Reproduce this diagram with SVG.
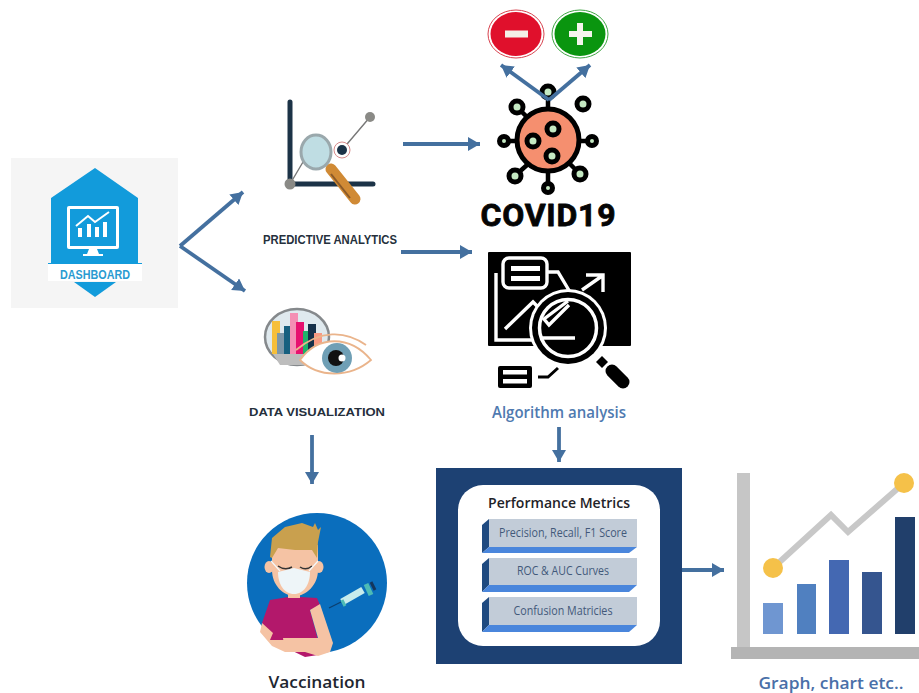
<svg xmlns="http://www.w3.org/2000/svg" width="919" height="693" viewBox="0 0 919 693">
<style>
.c{fill:none;stroke:#44709f;stroke-width:3.8;stroke-linecap:butt}
.os{font-family:"Open Sans","Liberation Sans",sans-serif;font-weight:600}
.cap{font-family:"Liberation Sans",Arial,sans-serif;font-weight:700;fill:#25303c}
.mt{font-family:"Open Sans","Liberation Sans",sans-serif;font-size:12px;fill:#42597a;text-anchor:middle}
.ball{fill:#c5eac3;stroke:#000;stroke-width:5}
.sp{stroke:#000;stroke-width:4.500;fill:none;stroke-linecap:round}
.w{fill:none;stroke:#fff;stroke-width:3.400}
.side{fill:#1f4a80}
.bot{fill:#4a86dc}
.front{fill:#c2ccd8}
.skin{fill:#f5c3a4}
</style>
<defs>
<marker id="ah" markerUnits="userSpaceOnUse" markerWidth="15" markerHeight="15" refX="12" refY="7" orient="auto">
<path d="M0 0L12 7L0 14z" fill="#44709f"/>
</marker>
</defs>
<rect width="919" height="693" fill="#fff"/>

<g id="dashboard">
<rect x="11" y="158" width="167" height="150" fill="#f5f5f5"/>
<path d="M95 168L138 198V263H142V264H48V263H51V198z" fill="#129bdb"/>
<rect x="48" y="264" width="94" height="17" fill="#fff"/>
<path d="M74 282H116L95 297z" fill="#129bdb"/>
<rect x="67" y="206" width="52" height="43" rx="2" fill="#fff"/>
<rect x="70" y="209" width="46" height="37" fill="#129bdb"/>
<path d="M76 226L88 216L95 222L109 212" fill="none" stroke="#fff" stroke-width="2"/>
<path d="M78 228h4v9h-4zM87 224h4v13h-4zM95 227h4v10h-4zM103 222h4v15h-4z" fill="#fff"/>
<path d="M89 249h8l2 5h4v2h-20v-2h4z" fill="#fff"/>
<text x="95" y="279" text-anchor="middle" font-family="'Liberation Sans',Arial,sans-serif" font-size="13" font-weight="700" fill="#2a9bd1" textLength="70" lengthAdjust="spacingAndGlyphs">DASHBOARD</text>
</g>

<g id="predictive-analytics">
<path d="M290 102V184M290 184H373" fill="none" stroke="#1c3347" stroke-width="5" stroke-linecap="round"/>
<path d="M290 184L316 140M342 150L370 117" stroke="#777" stroke-width="1.400" fill="none"/>
<circle cx="290" cy="184" r="5.500" fill="#8a8a86"/>
<circle cx="370" cy="117" r="5" fill="#8a8a86"/>
<circle cx="342" cy="150" r="8" fill="#fff" stroke="#d88b8b" stroke-width="1"/>
<circle cx="342" cy="150" r="5" fill="#1c3347"/>
<path d="M331 169L355 199" stroke="#d08a35" stroke-width="11" stroke-linecap="round"/>
<path d="M331 174L350 198" stroke="#8a5a2a" stroke-width="2"/>
<ellipse cx="316" cy="152" rx="15" ry="17" fill="#bfdde3" stroke="#9aa8ac" stroke-width="3"/>
<text x="330" y="244" text-anchor="middle" class="cap" font-size="12.500" textLength="134" lengthAdjust="spacingAndGlyphs">PREDICTIVE ANALYTICS</text>
</g>

<g id="data-visualization">
<ellipse cx="297" cy="337" rx="32" ry="28" fill="#dfe9ee" stroke="#85898c" stroke-width="2.500"/>
<path d="M272 354L272 321H280V354z" fill="#f6bf3a"/>
<path d="M277 354V333H285V354z" fill="#7d97a8"/>
<path d="M284 354V326H292V354z" fill="#17607f"/>
<path d="M290 354V313H298V354z" fill="#f48fb4"/>
<path d="M296 354V322H304V354z" fill="#e7116f"/>
<path d="M303 354V331H311V354z" fill="#1eb36a"/>
<path d="M308 354V324H316V354z" fill="#15314a"/>
<path d="M314 350V333H322V350z" fill="#f79a83"/>
<path d="M273 354H310L318 365H280z" fill="#bdbdbd"/>
<path d="M300 360C318 335 350 335 371 360C350 378 318 378 300 360z" fill="#fff" stroke="#eab48b" stroke-width="1.800"/>
<path d="M296 350C320 330 345 330 366 345" fill="none" stroke="#eab48b" stroke-width="1.800"/>
<circle cx="337" cy="358" r="15" fill="#6f9fb5"/>
<circle cx="336" cy="358" r="8" fill="#111"/>
<circle cx="342" cy="358" r="3.500" fill="#fff"/>
<text x="317" y="416" text-anchor="middle" class="cap" font-size="11.500" textLength="136" lengthAdjust="spacingAndGlyphs">DATA VISUALIZATION</text>
</g>

<g id="minus">
<ellipse cx="516" cy="34" rx="28" ry="24" fill="#fff" stroke="#d8434f" stroke-width="1"/>
<ellipse cx="516" cy="34" rx="25.500" ry="22" fill="#e0102c"/>
<rect x="505" y="30.500" width="23" height="7" fill="#f4f0e8"/>
</g>
<g id="plus">
<ellipse cx="580" cy="34" rx="28" ry="24" fill="#fff" stroke="#3fa544" stroke-width="1"/>
<ellipse cx="580" cy="34" rx="25.500" ry="22" fill="#0a950f"/>
<path d="M577 23h6v8h9v6h-9v8h-6v-8h-8v-6h8z" fill="#f4f4ec"/>
</g>

<g id="covid19">
<path class="sp" d="M548 97V110M520 110L529 119M509 141H516M587 141H580M518 173L527 165M577 171L569 163M548 183V172"/>
<circle cx="548" cy="140" r="31" fill="#f58f6f" stroke="#000" stroke-width="5"/>
<circle class="ball" cx="548" cy="92" r="6"/>
<circle class="ball" cx="517" cy="107" r="6"/>
<circle class="ball" cx="583" cy="104" r="6"/>
<circle class="ball" cx="504" cy="141" r="4.500"/>
<circle class="ball" cx="592" cy="141" r="4.500"/>
<circle class="ball" cx="515" cy="176" r="6"/>
<circle class="ball" cx="580" cy="174" r="6"/>
<circle class="ball" cx="548" cy="188" r="4.500"/>
<circle class="ball" cx="553" cy="129" r="6"/>
<circle class="ball" cx="533" cy="141" r="6"/>
<circle class="ball" cx="552" cy="156" r="6"/>
<text x="548" y="226" text-anchor="middle" font-family="Roboto,'Liberation Sans',sans-serif" font-weight="700" font-size="32" fill="#050505" stroke="#050505" stroke-width="0.800" stroke-linejoin="round" textLength="135" lengthAdjust="spacing">COVID19</text>
</g>

<g id="algorithm-analysis">
<rect x="488" y="252" width="143" height="94" rx="1" fill="#000"/>
<path class="w" d="M496 273V340H573"/>
<rect x="503" y="258" width="44" height="30" rx="6" fill="#000" stroke="#fff" stroke-width="3.400"/>
<path d="M511 266h29v5h-29zM511 276h29v5h-29z" fill="#fff"/>
<path class="w" d="M547 272H558L570 292"/>
<path class="w" d="M505 329L533 302L545 314M582 290L602 276M586 275H603V292"/>
<circle cx="568" cy="328" r="39" fill="#fff"/>
<circle cx="568" cy="328" r="36" fill="#000"/>
<circle cx="568" cy="328" r="28.500" fill="none" stroke="#fff" stroke-width="3.500"/>
<path class="w" d="M569 305L549 325L544 319L568 301M541 338H575"/>
<path d="M602 356L608 362L602 368L596 362z" fill="#000"/>
<path d="M612 371L623 382" stroke="#000" stroke-width="13" stroke-linecap="round"/>
<rect x="498" y="366" width="34" height="22" rx="2" fill="#000"/>
<path d="M503 370h24v4.500h-24zM503 379h24v4.500h-24z" fill="#fff"/>
<path d="M538 377H548L558 368" fill="none" stroke="#000" stroke-width="3"/>
<text x="559" y="418" text-anchor="middle" class="os" font-size="16" fill="#4f7ab0" textLength="134" lengthAdjust="spacingAndGlyphs">Algorithm analysis</text>
</g>

<g id="performance-metrics">
<rect x="436" y="468" width="246" height="196" fill="#1d4173"/>
<rect x="458" y="485" width="202" height="161" rx="25" fill="#fff"/>
<text x="559" y="508" text-anchor="middle" class="os" font-size="15" fill="#1f2328" textLength="142" lengthAdjust="spacingAndGlyphs">Performance Metrics</text>
<path class="side" d="M482 525L489 519V547L482 553z"/><path class="bot" d="M482 553L489 547H637L629 553z"/><rect class="front" x="489" y="519" width="148" height="28"/>
<text class="mt" x="563" y="537" textLength="128" lengthAdjust="spacingAndGlyphs">Precision, Recall, F1 Score</text>
<path class="side" d="M482 564L489 558V585L482 592z"/><path class="bot" d="M482 592L489 585H637L629 592z"/><rect class="front" x="489" y="558" width="148" height="27"/>
<text class="mt" x="563" y="575" textLength="92" lengthAdjust="spacingAndGlyphs">ROC &amp; AUC Curves</text>
<path class="side" d="M482 603L489 597V625L482 632z"/><path class="bot" d="M482 632L489 625H637L629 632z"/><rect class="front" x="489" y="597" width="148" height="28"/>
<text class="mt" x="563" y="615" textLength="99" lengthAdjust="spacingAndGlyphs">Confusion Matricies</text>
</g>

<g id="vaccination">
<circle cx="317" cy="583" r="70" fill="#0a6ebd"/>
<path d="M270 600L288 597H300L317 598L320 605L310 610L318 640V655L305 657L270 640L262 623z" fill="#b3186b"/>
<path class="skin" d="M310 610L320 604L333 643L330 652L318 656L305 652H285L283 638H318z"/>
<path class="skin" d="M262 623L273 633L270 640L285 640V652L272 646L260 632z"/>
<path class="skin" d="M288 590h12v8h-12z"/>
<ellipse class="skin" cx="269" cy="567" rx="4.500" ry="6"/>
<ellipse class="skin" cx="319" cy="567" rx="4.500" ry="6"/>
<path class="skin" d="M272 545H318V570C318 585 306 596 295 596C283 596 272 585 272 570z"/>
<path d="M270 557L272 538L285 527L302 523L313 527L315 523L318 530L321 527L318 542L317 558L312 550L295 550L278 548L272 558z" fill="#c9a04e"/>
<path d="M278 566Q285 571 292 567M300 567Q306 571 312 566" fill="none" stroke="#333" stroke-width="1.500"/>
<path d="M271 561L280 571M318 561L309 571" stroke="#f3f8fa" stroke-width="1.200"/>
<path d="M278 572L294 568L310 572C310 584 304 594 294 594C284 594 278 584 278 572z" fill="#eef5f8"/>
<path d="M329 608L341 602" stroke="#0b3f6e" stroke-width="1.200"/>
<path d="M342 602L363 590" stroke="#c8ecec" stroke-width="7"/>
<path d="M342 600L345 606" stroke="#4dbbb5" stroke-width="3"/>
<path d="M366 584L371 595" stroke="#4dbbb5" stroke-width="5"/>
<path d="M371 582L375 590" stroke="#14365c" stroke-width="3"/>
<text x="317" y="688" text-anchor="middle" class="os" font-size="17" font-weight="700" fill="#1e2630" textLength="97" lengthAdjust="spacingAndGlyphs">Vaccination</text>
</g>

<g id="graph-chart">
<rect x="737" y="473" width="13" height="174" fill="#c6c6c6"/>
<rect x="731" y="647" width="188" height="12" fill="#b4b4b4"/>
<path d="M773 568L831 515L848 532L904 483" fill="none" stroke="#c8c8c8" stroke-width="6"/>
<circle cx="773" cy="568" r="10" fill="#f5c149"/>
<circle cx="904" cy="483" r="10" fill="#f5c149"/>
<rect x="763" y="603" width="20" height="31" fill="#6f96d1"/>
<rect x="797" y="584" width="19" height="50" fill="#5080c0"/>
<rect x="829" y="560" width="20" height="74" fill="#4468b2"/>
<rect x="862" y="572" width="20" height="62" fill="#35558f"/>
<rect x="895" y="517" width="20" height="117" fill="#213f6b"/>
<text x="831" y="689" text-anchor="middle" class="os" font-size="17" font-weight="700" fill="#4a6fa8" textLength="145" lengthAdjust="spacingAndGlyphs">Graph, chart etc..</text>
</g>

<g id="connectors">
<path class="c" d="M180 246L243 192" marker-end="url(#ah)"/>
<path class="c" d="M180 246L245 291" marker-end="url(#ah)"/>
<path class="c" d="M403 144H480" marker-end="url(#ah)"/>
<path class="c" d="M401 252H472" marker-end="url(#ah)"/>
<path class="c" d="M549 100L501 65" marker-end="url(#ah)"/>
<path class="c" d="M549 100L590 65" marker-end="url(#ah)"/>
<path class="c" d="M312 435V484" marker-end="url(#ah)"/>
<path class="c" d="M559 427V462" marker-end="url(#ah)"/>
<path class="c" d="M682 570H724" marker-end="url(#ah)"/>
</g>
</svg>
